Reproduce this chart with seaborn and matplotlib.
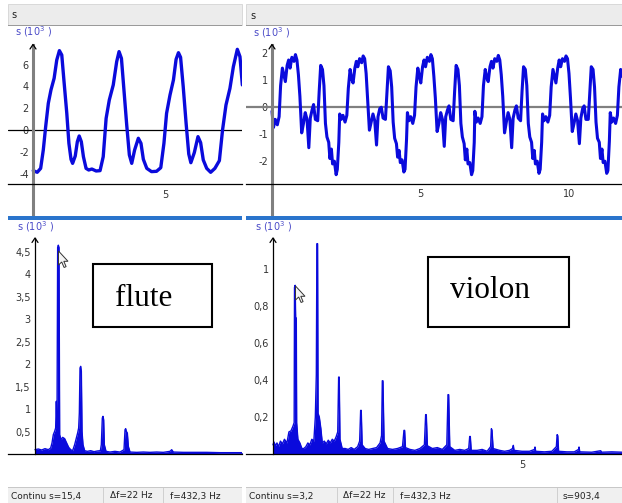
import numpy as np
import pandas as pd
import seaborn as sns
import matplotlib.pyplot as plt
from matplotlib.patches import Rectangle, Polygon
from matplotlib.lines import Line2D

sns.set_theme(style="white")
plt.rcParams['font.family'] = ['DejaVu Sans']

W, H = 622, 503

# flute signal: t in ms, s in 10^3
flute_t = [0.01, 0.16, 0.29, 0.39, 0.48, 0.58, 0.68, 0.80, 0.90, 1.00,
           1.09, 1.17, 1.28, 1.36, 1.44, 1.50, 1.60, 1.68, 1.75, 1.83,
           1.91, 2.01, 2.11, 2.23, 2.39, 2.54, 2.66, 2.77, 2.89, 3.04,
           3.17, 3.26, 3.35, 3.45, 3.55, 3.65, 3.74, 3.85, 3.99, 4.09,
           4.18, 4.31, 4.49, 4.68, 4.84, 4.96, 5.06, 5.19, 5.32, 5.42,
           5.51, 5.59, 5.69, 5.80, 5.90, 5.98, 6.11, 6.25, 6.35, 6.45,
           6.58, 6.73, 6.89, 7.06, 7.18, 7.31, 7.46, 7.59, 7.74, 7.84,
           7.93]
flute_s = [-3.73, -3.88, -3.52, -1.83, 0.31, 2.45, 3.67, 4.74, 6.42, 7.28,
           6.88, 4.59, 1.53, -1.22, -2.69, -3.06, -2.39, -1.07, -0.55, -1.07,
           -2.45, -3.52, -3.67, -3.58, -3.76, -3.73, -2.45, 1.07, 2.75, 4.13,
           6.27, 7.19, 6.57, 3.52, 0.46, -2.29, -3.06, -1.83, -0.76, -1.22,
           -2.69, -3.52, -3.82, -3.79, -3.46, -1.22, 1.53, 3.21, 4.59, 6.48,
           7.09, 6.67, 3.98, 0.61, -2.20, -3.00, -2.08, -0.61, -1.16, -2.75,
           -3.52, -3.88, -3.52, -2.81, 0.00, 2.29, 3.82, 5.81, 7.40, 6.73,
           4.13]

# violin signal: t in ms, s in 10^3
violin_t = [0.00, 0.05, 0.11, 0.18, 0.24, 0.29, 0.35, 0.40, 0.45, 0.51,
            0.56, 0.61, 0.67, 0.74, 0.79, 0.84, 0.89, 0.94, 1.00, 1.06,
            1.12, 1.18, 1.24, 1.29, 1.35, 1.40, 1.46, 1.54, 1.59, 1.64,
            1.70, 1.75, 1.80, 1.85, 1.91, 1.95, 2.00, 2.04, 2.10, 2.16,
            2.20, 2.25,
            2.28, 2.33, 2.39, 2.46, 2.52, 2.57, 2.63, 2.68, 2.73, 2.79,
            2.84, 2.89, 2.95, 3.02, 3.07, 3.12, 3.17, 3.22, 3.28, 3.34,
            3.40, 3.46, 3.52, 3.57, 3.63, 3.68, 3.74, 3.82, 3.87, 3.92,
            3.98, 4.03, 4.08, 4.13, 4.19, 4.23, 4.28, 4.32, 4.38, 4.44,
            4.48, 4.53,
            4.56, 4.61, 4.67, 4.74, 4.80, 4.85, 4.91, 4.96, 5.01, 5.07,
            5.12, 5.17, 5.23, 5.30, 5.35, 5.40, 5.45, 5.50, 5.56, 5.62,
            5.68, 5.74, 5.80, 5.85, 5.91, 5.96, 6.02, 6.10, 6.15, 6.20,
            6.26, 6.31, 6.36, 6.41, 6.47, 6.51, 6.56, 6.60, 6.66, 6.72,
            6.76, 6.81,
            6.83, 6.88, 6.94, 7.01, 7.07, 7.12, 7.18, 7.23, 7.28, 7.34,
            7.39, 7.44, 7.50, 7.57, 7.62, 7.67, 7.72, 7.77, 7.83, 7.89,
            7.95, 8.01, 8.07, 8.12, 8.18, 8.23, 8.29, 8.37, 8.42, 8.47,
            8.53, 8.58, 8.63, 8.68, 8.74, 8.78, 8.83, 8.87, 8.93, 8.99,
            9.03, 9.08,
            9.11, 9.16, 9.22, 9.29, 9.35, 9.40, 9.46, 9.51, 9.56, 9.62,
            9.67, 9.72, 9.78, 9.85, 9.90, 9.95, 10.00, 10.05, 10.11, 10.17,
            10.23, 10.29, 10.35, 10.40, 10.46, 10.51, 10.57, 10.65, 10.70, 10.75,
            10.81, 10.86, 10.91, 10.96, 11.02, 11.06, 11.11, 11.15, 11.21, 11.27,
            11.31, 11.36,
            11.39, 11.44, 11.50, 11.57, 11.63, 11.68, 11.74, 11.79]
violin_s = [-0.15, -0.75, -0.45, -0.65, -0.35, 0.80, 1.45, 1.20, 0.95, 1.55,
            1.75, 1.45, 1.85, 1.70, 1.95, 1.75, 1.20, 0.40, -0.95, -0.60,
            -0.20, -0.45, -1.50, -0.40, -0.10, 0.10, -0.45, -0.50, 0.60, 1.55,
            1.40, 0.80, -0.60, -1.10, -1.30, -1.90, -1.55, -2.10, -2.00, -2.50,
            -2.30, -1.30,
            -0.25, -0.45, -0.30, -0.55, -0.30, 0.70, 1.40, 1.05, 0.90, 1.45,
            1.70, 1.50, 1.80, 1.65, 1.90, 1.80, 1.25, 0.30, -0.85, -0.55,
            -0.25, -0.50, -1.40, -0.35, -0.05, 0.00, -0.40, -0.45, 0.55, 1.50,
            1.35, 0.75, -0.55, -1.15, -1.35, -1.85, -1.60, -2.05, -1.95, -2.40,
            -2.30, -1.20,
            -0.20, -0.50, -0.35, -0.60, -0.30, 0.75, 1.45, 1.15, 0.90, 1.50,
            1.75, 1.50, 1.85, 1.70, 1.95, 1.80, 1.15, 0.35, -0.90, -0.60,
            -0.20, -0.45, -1.45, -0.35, -0.10, 0.05, -0.45, -0.50, 0.60, 1.55,
            1.40, 0.80, -0.60, -1.10, -1.35, -1.95, -1.55, -2.10, -2.05, -2.50,
            -2.35, -1.30,
            -0.15, -0.55, -0.40, -0.60, -0.35, 0.80, 1.40, 1.10, 0.95, 1.50,
            1.70, 1.45, 1.80, 1.70, 1.92, 1.75, 1.20, 0.40, -0.95, -0.55,
            -0.20, -0.45, -1.50, -0.40, -0.10, 0.05, -0.40, -0.50, 0.60, 1.50,
            1.40, 0.80, -0.60, -1.10, -1.30, -1.90, -1.60, -2.10, -2.00, -2.45,
            -2.30, -1.30,
            -0.25, -0.50, -0.35, -0.55, -0.30, 0.75, 1.40, 1.15, 0.90, 1.45,
            1.75, 1.50, 1.80, 1.70, 1.90, 1.80, 1.25, 0.35, -0.90, -0.60,
            -0.25, -0.50, -1.35, -0.40, -0.05, 0.05, -0.45, -0.45, 0.55, 1.50,
            1.40, 0.75, -0.55, -1.15, -1.30, -1.90, -1.55, -2.05, -2.00, -2.45,
            -2.35, -1.25,
            -0.20, -0.55, -0.40, -0.60, -0.30, 0.75, 1.40, 1.15]

# flute spectrum: f in kHz, amplitude in 10^3
flute_f = [0.000, 0.065, 0.129, 0.194, 0.259, 0.304, 0.330, 0.356, 0.382, 0.401,
           0.414, 0.427, 0.440, 0.453, 0.466, 0.479, 0.505, 0.537, 0.576, 0.615,
           0.654, 0.693, 0.731, 0.770, 0.803, 0.828, 0.848, 0.861, 0.874, 0.887,
           0.900, 0.913, 0.932, 0.964, 1.016, 1.081, 1.146, 1.210, 1.269, 1.288,
           1.307, 1.320, 1.333, 1.346, 1.379, 1.456, 1.553, 1.650, 1.728, 1.748,
           1.761, 1.773, 1.793, 1.812, 1.845, 1.974, 2.104, 2.233, 2.362, 2.492,
           2.621, 2.654, 2.686, 2.880, 3.074, 3.333, 3.592, 3.851, 4.026]
flute_a = [0.096, 0.111, 0.089, 0.119, 0.096, 0.133, 0.244, 0.430, 0.504, 0.578,
           1.170, 0.578, 4.590, 4.640, 4.590, 0.430, 0.319, 0.370, 0.341, 0.244,
           0.148, 0.096, 0.074, 0.207, 0.356, 0.467, 0.578, 0.911, 1.911, 1.948,
           1.837, 0.504, 0.207, 0.074, 0.059, 0.074, 0.052, 0.067, 0.074, 0.207,
           0.800, 0.837, 0.763, 0.207, 0.059, 0.044, 0.059, 0.044, 0.096, 0.541,
           0.563, 0.504, 0.467, 0.170, 0.044, 0.037, 0.044, 0.037, 0.044, 0.037,
           0.059, 0.096, 0.044, 0.037, 0.037, 0.037, 0.030, 0.030, 0.030]

# violin spectrum: f in kHz, amplitude in 10^3
violin_f = [0.000, 0.020, 0.050, 0.080, 0.110, 0.150, 0.190, 0.230, 0.280, 0.320,
            0.360, 0.400, 0.425, 0.432, 0.445, 0.455, 0.468, 0.475, 0.500, 0.540,
            0.580, 0.620, 0.660, 0.700, 0.740, 0.780, 0.820, 0.850, 0.870, 0.882,
            0.895, 0.905, 0.930, 0.960, 0.990, 1.030, 1.070, 1.110, 1.150, 1.190,
            1.230, 1.270, 1.300, 1.318, 1.330, 1.345, 1.390, 1.450, 1.510, 1.570,
            1.630, 1.700, 1.740, 1.760, 1.772, 1.790, 1.850, 1.920, 2.000, 2.080,
            2.150, 2.180, 2.195, 2.208, 2.230, 2.300, 2.400, 2.500, 2.600, 2.630,
            2.643, 2.660, 2.750, 2.850, 2.950, 3.040, 3.065, 3.078, 3.100, 3.200,
            3.300, 3.400, 3.490, 3.514, 3.527, 3.550, 3.650, 3.750, 3.850, 3.930,
            3.950, 3.962, 3.980, 4.100, 4.200, 4.300, 4.370, 4.385, 4.397, 4.420,
            4.550, 4.650, 4.750, 4.810, 4.826, 4.840, 5.000, 5.150, 5.250, 5.261,
            5.275, 5.450, 5.600, 5.690, 5.705, 5.718, 5.735, 5.900, 6.050, 6.135,
            6.145, 6.160, 6.400, 6.580, 6.600, 6.800, 7.010]
violin_a = [0.050, 0.065, 0.045, 0.060, 0.040, 0.070, 0.055, 0.080, 0.060, 0.120,
            0.125, 0.150, 0.170, 0.900, 0.912, 0.735, 0.735, 0.170, 0.080, 0.060,
            0.030, 0.030, 0.040, 0.060, 0.050, 0.080, 0.070, 0.200, 0.430, 1.137,
            1.137, 0.220, 0.200, 0.140, 0.060, 0.070, 0.055, 0.075, 0.060, 0.080,
            0.070, 0.095, 0.120, 0.416, 0.416, 0.080, 0.030, 0.030, 0.025, 0.035,
            0.025, 0.040, 0.070, 0.236, 0.236, 0.050, 0.030, 0.025, 0.030, 0.035,
            0.060, 0.100, 0.396, 0.396, 0.070, 0.030, 0.025, 0.030, 0.040, 0.128,
            0.128, 0.035, 0.025, 0.020, 0.030, 0.050, 0.213, 0.213, 0.045, 0.030,
            0.035, 0.025, 0.050, 0.321, 0.321, 0.040, 0.020, 0.025, 0.020, 0.030,
            0.095, 0.095, 0.020, 0.020, 0.025, 0.015, 0.040, 0.137, 0.130, 0.030,
            0.020, 0.015, 0.020, 0.030, 0.047, 0.020, 0.015, 0.015, 0.025, 0.038,
            0.015, 0.012, 0.015, 0.040, 0.105, 0.100, 0.015, 0.012, 0.012, 0.025,
            0.038, 0.012, 0.010, 0.018, 0.010, 0.012, 0.010]

# tick values and labels
flute_sig_yticks = [-4, -2, 0, 2, 4, 6]
violin_sig_yticks = [-2, -1, 0, 1, 2]
flute_spec_yticks = [0.5, 1, 1.5, 2, 2.5, 3, 3.5, 4, 4.5]
flute_spec_ylabels = ['0,5', '1', '1,5', '2', '2,5', '3', '3,5', '4', '4,5']
violin_spec_yticks = [0.2, 0.4, 0.6, 0.8, 1]
violin_spec_ylabels = ['0,2', '0,4', '0,6', '0,8', '1']

BLUE = '#0a0adc'
LABEL = '#4b4bc8'

fig = plt.figure(figsize=(W / 100, H / 100), dpi=100)
fig.patch.set_facecolor('white')


def px_axes(x0, y0, x1, y1):
    return fig.add_axes([x0 / W, 1 - y1 / H, (x1 - x0) / W, (y1 - y0) / H])


def px_rect(x0, y0, x1, y1, **kw):
    fig.patches.append(Rectangle((x0 / W, 1 - y1 / H), (x1 - x0) / W, (y1 - y0) / H,
                                 transform=fig.transFigure, **kw))


def px_text(x, y, s, **kw):
    fig.text(x / W, 1 - y / H, s, **kw)


def px_cursor(x, y):
    pts = [(0, 0), (0, 14), (3.2, 11), (5.6, 16.5), (7.6, 15.6), (5.3, 10.3), (9.5, 10.3)]
    xy = [((x + dx) / W, 1 - (y + dy) / H) for dx, dy in pts]
    fig.patches.append(Polygon(xy, closed=True, transform=fig.transFigure,
                               facecolor='#f4f4f4', edgecolor='#333333', lw=0.7, zorder=7))


def px_arrowhead(x, y):
    xs = [(x - 3) / W, x / W, (x + 3) / W]
    ys = [1 - (y + 4.5) / H, 1 - y / H, 1 - (y + 4.5) / H]
    fig.add_artist(Line2D(xs, ys, transform=fig.transFigure, color='black',
                          lw=0.9, zorder=8))


def style(ax, xlim, ylim, xaxis_y, axis_top, yticks, ylabels, xticks, upper):
    ax.set_xlim(*xlim)
    ax.set_ylim(*ylim)
    ax.set_facecolor('none')
    ax.grid(False)
    ax.spines['top'].set_visible(False)
    ax.spines['right'].set_visible(False)
    ax.spines['bottom'].set_position(('data', xaxis_y))
    ax.spines['bottom'].set_color('black')
    ax.spines['bottom'].set_linewidth(0.9)
    left = ax.spines['left']
    left.set_position(('data', 0))
    left.set_bounds(ylim[0] if upper else 0, axis_top)
    left.set_color('#808080' if upper else 'black')
    left.set_linewidth(2.2 if upper else 0.9)
    ax.set_yticks(yticks, ylabels)
    ax.set_xticks(xticks, [str(v) for v in xticks])
    ax.tick_params(axis='both', labelsize=7, labelcolor='#333333', color='#333333',
                   length=2, width=0.8, pad=1)
    ax.tick_params(axis='x', direction='inout', length=4, pad=2)
    ax.set_xlabel('')
    ax.set_ylabel('')


# window chrome: headers, separator, status bars
for x0, x1 in [(8, 242), (246, 622)]:
    px_rect(x0, 4, x1, 25, facecolor='#ececec', edgecolor='#d4d4d4', lw=0.6)
    px_rect(x0, 24.5, x1, 26, facecolor='#9a9a9a', edgecolor='none')
    px_rect(x0, 216, x1, 219.5, facecolor='#2a74cc', edgecolor='none')
    px_rect(x0, 487, x1, 503, facecolor='#f0f0f0', edgecolor='none')
    px_rect(x0, 486.5, x1, 487.5, facecolor='#c8c8c8', edgecolor='none')
for xd in [103, 163, 337, 393, 557]:
    px_rect(xd, 488, xd + 0.8, 503, facecolor='#d0d0d0', edgecolor='none')

px_text(11, 15, 's', fontsize=7, color='#222222', va='center')
px_text(250, 16, 's', fontsize=7, color='#222222', va='center')

status = [(11, 'Continu s=15,4'), (110, 'Δf=22 Hz'), (170, 'f=432,3 Hz'),
          (249, 'Continu s=3,2'), (343, 'Δf=22 Hz'), (400, 'f=432,3 Hz'),
          (563, 's=903,4')]
for x, txt in status:
    px_text(x, 496, txt, fontsize=6.5, color='#222222', va='center')

# upper left: flute signal
ax = px_axes(8, 26, 242, 216)
ax.axhline(0, color='black', lw=0.9)
sns.lineplot(x=flute_t, y=flute_s, ax=ax, color=BLUE, lw=2.4)
style(ax, (-0.947, 7.917), (-7.89, 9.54), -4.95, 7.8,
      flute_sig_yticks, [str(v) for v in flute_sig_yticks], [5], True)

# upper right: violin signal
ax = px_axes(246, 26, 622, 216)
ax.axhline(0, color='#808080', lw=1.6)
sns.lineplot(x=violin_t, y=violin_s, ax=ax, color=BLUE, lw=2.2)
style(ax, (-0.875, 11.785), (-4.03, 3.01), -2.84, 2.31,
      violin_sig_yticks, [str(v) for v in violin_sig_yticks], [5, 10], True)

# lower left: flute spectrum
ax = px_axes(8, 220, 242, 487)
ax.fill_between(flute_f, flute_a, 0, color=BLUE, lw=0)
sns.lineplot(x=flute_f, y=flute_a, ax=ax, color=BLUE, lw=1.0)
style(ax, (-0.524, 4.019), (-0.733, 5.2), 0, 4.8,
      flute_spec_yticks, flute_spec_ylabels, [], False)

# lower right: violin spectrum
ax = px_axes(246, 220, 622, 487)
ax.fill_between(violin_f, violin_a, 0, color=BLUE, lw=0)
sns.lineplot(x=violin_f, y=violin_a, ax=ax, color=BLUE, lw=1.0)
style(ax, (-0.542, 7.008), (-0.178, 1.265), 0, 1.168,
      violin_spec_yticks, violin_spec_ylabels, [5], False)

# arrow tips at the top of each vertical axis
for x, y in [(33, 44.5), (272, 44.5), (35, 238), (273, 238)]:
    px_arrowhead(x, y)

# axis captions
for x, y in [(15, 32), (253, 33), (17, 227), (255, 227)]:
    px_text(x, y, 's (10$^3$ )', fontsize=7, color=LABEL, va='center')

# mouse pointers left on the spectra
px_cursor(58.5, 251)
px_cursor(295.5, 286)

# instrument name boxes
px_rect(93.3, 264, 212.3, 326.7, facecolor='white', edgecolor='black', lw=1.5, zorder=5)
px_rect(427.7, 256.7, 569.3, 327.3, facecolor='white', edgecolor='black', lw=1.5, zorder=5)
px_text(143.3, 305.7, 'flute', fontsize=22.5, family='Liberation Serif',
        color='black', ha='center', va='baseline', zorder=6)
px_text(489.7, 298.3, 'violon', fontsize=22.5, family='Liberation Serif',
        color='black', ha='center', va='baseline', zorder=6)

fig.savefig('out.png', dpi=100)
